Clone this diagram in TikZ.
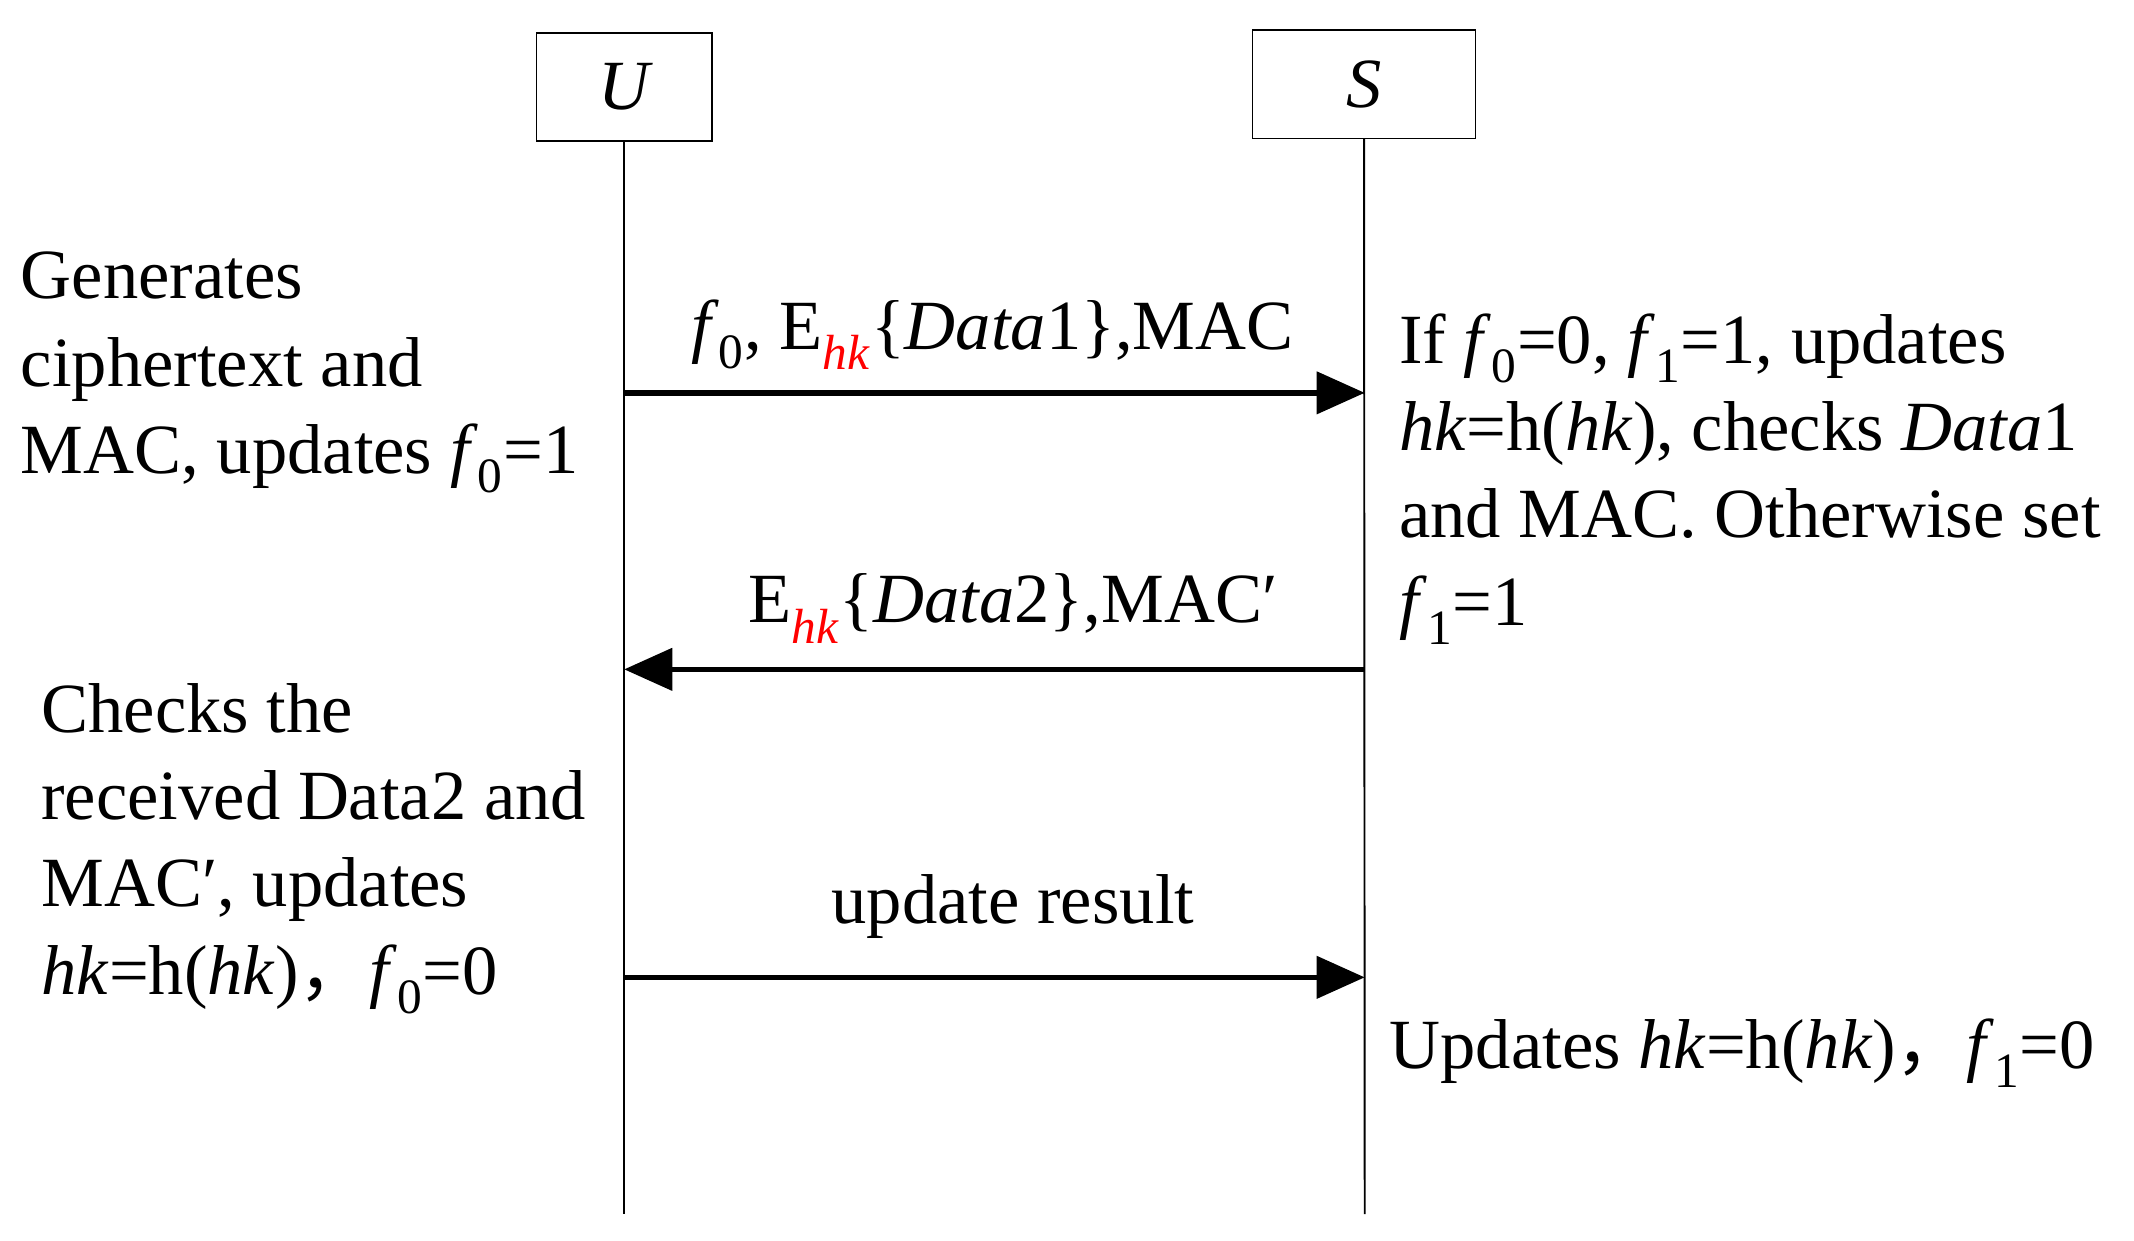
\documentclass[tikz,border=0pt]{standalone}
\usepackage{fontspec}
\setmainfont{Liberation Serif}
\newfontfamily\cjk{Noto Sans CJK SC}
\usetikzlibrary{arrows.meta}
\newcommand{\fz}[1]{\textit{f}\textsubscript{#1}}
\newcommand{\Ehk}{E\textsubscript{\textcolor{red}{\textit{hk}}}}
\begin{document}
\begin{tikzpicture}[x=0.03cm,y=-0.03cm,
  box/.style={draw,line width=0.9pt,minimum width=128*0.03cm,minimum height=79*0.03cm,inner sep=0pt,font=\fontsize{44}{54}\selectfont\itshape},
  life/.style={line width=1.2pt},
  msg/.style={line width=3.4pt,-{Triangle[length=30pt,width=26pt]}},
  txt/.style={inner sep=0pt,align=left,font=\fontsize{44}{54.4}\selectfont},
  lbl/.style={inner sep=0pt,font=\fontsize{44}{54}\selectfont}]
\useasboundingbox (0,0) rectangle (1559,906);
\node[box] (U) at (456,63.5) {U};
\node[box,minimum width=163*0.03cm] (S) at (996.5,61.5) {S};
\coordinate (Ue) at (456,887);
\coordinate (Se) at (997,887);
\draw[life] (U.south) -- (Ue);
\draw[life] (S.south) -- (Se);
\coordinate (a1) at (456,287); \coordinate (b1) at (997,287);
\coordinate (a2) at (456,489); \coordinate (b2) at (997,489);
\coordinate (a3) at (456,714); \coordinate (b3) at (997,714);
\draw[msg] (a1) -- (b1);
\draw[msg] (b2) -- (a2);
\draw[msg] (a3) -- (b3);
\node[lbl,anchor=base] (l1) at (725,255) {\fz{0}, \Ehk\{\textit{Data}1\},MAC};
\node[lbl,anchor=base] (l2) at (740,455) {\Ehk\{\textit{Data}2\},MAC′};
\node[lbl,anchor=base] (l3) at (740,675) {update result};
\node[txt,anchor=north west] (t1) at (15,184) {Generates\\ciphertext and\\MAC, updates \fz{0}=1};
\node[txt,anchor=north west] (t2) at (1022,229) {If \fz{0}=0, \fz{1}=1, updates\\\textit{hk}=h(\textit{hk}), checks \textit{Data}1\\and MAC. Otherwise set\\\fz{1}=1};
\node[txt,anchor=north west] (t3) at (30,499) {Checks the\\received Data2 and\\MAC′, updates\\\textit{hk}=h(\textit{hk}){\cjk ，}\fz{0}=0};
\node[txt,anchor=north west] (t4) at (1015,744) {Updates \textit{hk}=h(\textit{hk}){\cjk ，}\fz{1}=0};
\end{tikzpicture}
\end{document}
